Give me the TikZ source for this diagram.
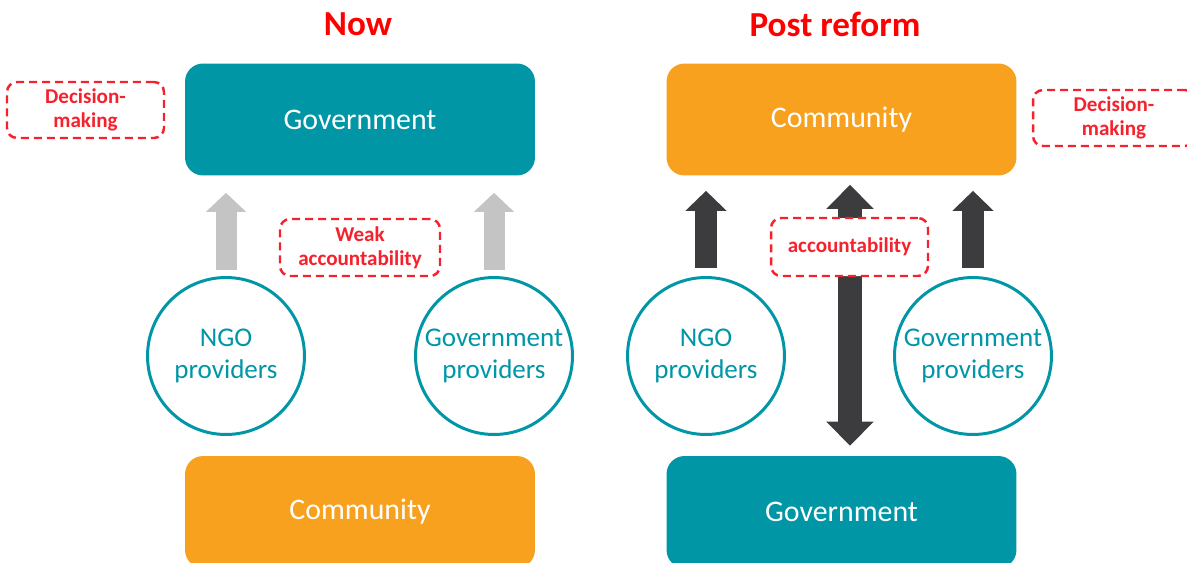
\documentclass[tikz,border=0pt]{standalone}
\usepackage{fontspec}
\setmainfont{Carlito}
\usepackage{xcolor}
\usetikzlibrary{arrows.meta, positioning}
\definecolor{tealc}{HTML}{0096A6}
\definecolor{orangec}{HTML}{F8A11F}
\definecolor{redc}{HTML}{F5222D}
\definecolor{darkarr}{HTML}{3C3C3E}
\definecolor{lightarr}{HTML}{C4C4C4}
\begin{document}
\begin{tikzpicture}[
  x=0.02cm, y=-0.02cm,
  bigbox/.style={rounded corners=0.36cm, minimum width=7cm, minimum height=2.24cm,
                 inner sep=0pt, text=white, font=\fontsize{17}{20}\selectfont},
  govbox/.style={bigbox, fill=tealc},
  combox/.style={bigbox, fill=orangec},
  provider/.style={draw=tealc, circle, line width=1.7pt, minimum size=3.14cm, inner sep=0pt,
                   align=center, text=tealc, font=\fontsize{15.4}{18.5}\selectfont},
  note/.style={draw=redc, dash pattern=on 0.16cm off 0.1cm, line width=1.4pt, fill=white,
               rounded corners=0.2cm, minimum width=3.14cm, minimum height=1.12cm, inner sep=0pt,
               align=center, text=redc, font=\fontsize{12}{13.6}\selectfont\bfseries},
  heading/.style={text=red, font=\fontsize{20}{24}\selectfont\bfseries},
  grayarr/.style={draw=lightarr, line width=0.42cm, -{Triangle[width=0.78cm,length=0.38cm]}},
  darkblk/.style={draw=darkarr, line width=0.43cm, -{Triangle[width=0.8cm,length=0.4cm]}},
  twoway/.style={draw=darkarr, line width=0.48cm, {Triangle[width=0.92cm,length=0.48cm]}-{Triangle[width=0.92cm,length=0.48cm]}}
]
\clip (0,0) rectangle (1187,562);

\node[heading] (now) at (358,24) {Now};
\node[heading] (post) at (835,24) {Post reform};

\node[govbox] (govL) at (360,119.5) {Government};
\node[combox] (comL) at (360,512) {Community};
\node[provider] (ngoL) at (226,356) {NGO\\providers};
\node[provider] (gprL) at (494,356) {Government\\providers};

\node[combox] (comR) at (841.5,119.5) {Community};
\node[govbox] (govR) at (841.5,512) {Government};
\node[provider] (ngoR) at (706,356) {NGO\\providers};
\node[provider] (gprR) at (973,356) {Government\\providers};

\draw[grayarr, shorten <=0.12cm, shorten >=0.34cm] (ngoL.north) -- (ngoL.north |- govL.south);
\draw[grayarr, shorten <=0.12cm, shorten >=0.34cm] (gprL.north) -- (gprL.north |- govL.south);
\draw[darkblk, shorten <=0.16cm, shorten >=0.3cm] (ngoR.north) -- (ngoR.north |- comR.south);
\draw[darkblk, shorten <=0.16cm, shorten >=0.3cm] (gprR.north) -- (gprR.north |- comR.south);
\draw[twoway, shorten <=0.18cm, shorten >=0.2cm] ([xshift=0.17cm]comR.south) -- ([xshift=0.17cm]govR.north);

\node[note] (decL) at (85.5,110) {Decision-\\making};
\node[note, minimum width=3.2cm, minimum height=1.14cm] (weak) at (360,247.5) {Weak\\accountability};
\node[note, minimum height=1.16cm] (acc) at (849.5,247) {accountability};
\node[note, minimum width=3.24cm] (decR) at (1114,118) {Decision-\\making};
\end{tikzpicture}
\end{document}
